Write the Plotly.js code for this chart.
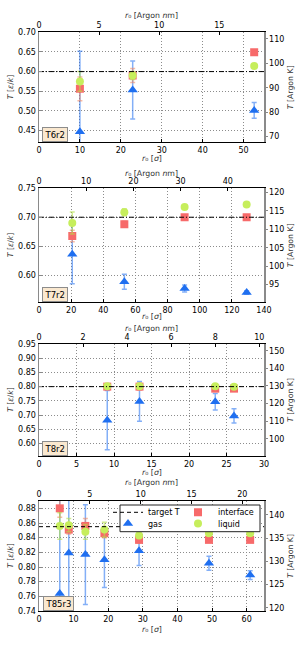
<!DOCTYPE html>
<html><head><meta charset="utf-8">
<script src="https://cdn.plot.ly/plotly-3.0.1.min.js"></script>
<style>html,body{margin:0;padding:0;background:#fff}#chart{width:300px;height:650px}</style>
</head><body><div id="chart"></div>
<script>
// ---------- data ----------
const panelLabels = ['T6r2', 'T7r2', 'T8r2', 'T85r3'];
const targetT = [0.60, 0.70, 0.80, 0.855];

// T6r2
const r0_T6r2 = [10.0, 22.9, 52.6];
const gas_T6r2 = [0.447, 0.553, 0.501];
const gasErr_T6r2 = [0.205, 0.074, 0.020];
const interface_T6r2 = [0.556, 0.590, 0.649];
const interfaceErr_T6r2 = [0.030, 0.018, 0.005];
const liquid_T6r2 = [0.575, 0.590, 0.614];
const liquidErr_T6r2 = [0.025, 0.010, 0.004];

// T7r2
const r0_T7r2 = [20.7, 53.1, 90.6, 129.2];
const gas_T7r2 = [0.636, 0.5885, 0.577, 0.570];
const gasErr_T7r2 = [0.051, 0.013, 0.006, 0.003];
const interface_T7r2 = [0.6675, 0.688, 0.700, 0.700];
const interfaceErr_T7r2 = [0.010, 0.005, 0.004, 0.003];
const liquid_T7r2 = [0.690, 0.7085, 0.7176, 0.722];
const liquidErr_T7r2 = [0.019, 0.006, 0.004, 0.003];

// T8r2
const r0_T8r2 = [9.1, 13.4, 23.5, 26.0];
const gas_T8r2 = [0.682, 0.748, 0.747, 0.697];
const gasErr_T8r2 = [0.104, 0.070, 0.029, 0.025];
const interface_T8r2 = [0.800, 0.800, 0.793, 0.793];
const interfaceErr_T8r2 = [0.006, 0.012, 0.005, 0.004];
const liquid_T8r2 = [0.801, 0.801, 0.801, 0.800];
const liquidErr_T8r2 = [0.005, 0.008, 0.004, 0.003];

// T85r3
const r0_T85r3 = [6.0, 8.6, 13.4, 18.9, 28.9, 49.1, 61.0];
const gas_T85r3 = [0.764, 0.819, 0.817, 0.810, 0.822, 0.805, 0.789];
const gasErr_T85r3 = [0.150, 0.100, 0.068, 0.038, 0.020, 0.0095, 0.006];
const interface_T85r3 = [0.880, 0.851, 0.856, 0.846, 0.837, 0.837, 0.837];
const interfaceErr_T85r3 = [0.012, 0.006, 0.010, 0.006, 0.004, 0.003, 0.003];
const liquid_T85r3 = [0.856, 0.857, 0.848, 0.851, 0.843, 0.846, 0.846];
const liquidErr_T85r3 = [0.018, 0.009, 0.010, 0.010, 0.004, 0.003, 0.003];

// axis limits / ticks
const sigmaRanges = [[0, 55], [0, 140], [0, 30], [0, 65]];
const leftRanges = [[0.42, 0.70], [0.553, 0.75], [0.556, 0.95], [0.74, 0.89]];
const rightRanges = [[67.7, 112.7], [90.2, 121.1], [90.2, 153.8], [119.3, 143.0]];
const leftDticks = [0.05, 0.05, 0.05, 0.02];
const rightDticks = [10, 5, 10, 5];
const sigmaDticks = [10, 20, 5, 10];
const nmDticks = [5, 10, 2, 5];
const NM_PER_SIGMA = 0.3405;

// axis titles
const titleLeft = '<i>T</i> [<i>ε</i>/<i>k</i>]';
const titleRight = '<i>T</i> [Argon K]';
const titleTop = '<i>r</i>₀ [Argon <i>n</i>m]';
const titleBottom = '<i>r</i>₀ [<i>σ</i>]';

const panels = [
  {r0: r0_T6r2, gas: gas_T6r2, gasErr: gasErr_T6r2, iface: interface_T6r2, ifaceErr: interfaceErr_T6r2, liq: liquid_T6r2, liqErr: liquidErr_T6r2},
  {r0: r0_T7r2, gas: gas_T7r2, gasErr: gasErr_T7r2, iface: interface_T7r2, ifaceErr: interfaceErr_T7r2, liq: liquid_T7r2, liqErr: liquidErr_T7r2},
  {r0: r0_T8r2, gas: gas_T8r2, gasErr: gasErr_T8r2, iface: interface_T8r2, ifaceErr: interfaceErr_T8r2, liq: liquid_T8r2, liqErr: liquidErr_T8r2},
  {r0: r0_T85r3, gas: gas_T85r3, gasErr: gasErr_T85r3, iface: interface_T85r3, ifaceErr: interfaceErr_T85r3, liq: liquid_T85r3, liqErr: liquidErr_T85r3}
];

// ---------- layout geometry ----------
const W = 300, H = 650, ML = 39, MR = 36;
const plotTop = [32.3, 188.3, 344, 501];
const plotBottom = [142.3, 302.3, 456, 611];
const topTitleGap = [16.6, 15, 15.7, 18.3];
const bottomTitleGap = [16.3, 14.5, 16.8, 18.5];
const PW = W - ML - MR;
const fy = px => 1 - px / H;
const fx = px => (px - ML) / PW;

const FONT = 'DejaVu Sans, Arial, sans-serif';
const C_GAS = '#1f6ff0', C_IF = '#f76a6a', C_LIQ = '#c6ee5c';
const GRID_DASH = '1px,2px';

const traces = [];
const layout = {
  width: W, height: H,
  margin: {l: ML, r: MR, t: 0, b: 0, pad: 0},
  paper_bgcolor: '#fff', plot_bgcolor: '#fff',
  font: {family: FONT, size: 8, color: '#000'},
  showlegend: true,
  annotations: [], shapes: []
};

panels.forEach((d, p) => {
  const i = p + 1, j = p + 5;
  const xa = 'x' + i, ya = 'y' + i;
  const last = p === 3;
  const err = (arr, col) => ({type: 'data', array: arr, visible: true, color: col, thickness: 1.5, width: 2.5});

  traces.push({
    type: 'scatter', mode: 'markers', name: 'gas', x: d.r0, y: d.gas, xaxis: xa, yaxis: ya,
    marker: {symbol: 'triangle-up', size: 9, color: C_GAS},
    error_y: err(d.gasErr, 'rgba(30,110,240,0.55)'),
    showlegend: last, legend: 'legend2', legendrank: 1, legendwidth: 25, hoverinfo: 'skip'
  });
  traces.push({
    type: 'scatter', mode: 'markers', name: 'interface', x: d.r0, y: d.iface, xaxis: xa, yaxis: ya,
    marker: {symbol: 'square', size: 8, color: C_IF},
    error_y: err(d.ifaceErr, 'rgba(240,130,90,0.55)'),
    showlegend: last, legend: 'legend', legendrank: 2, legendwidth: 50, hoverinfo: 'skip'
  });
  traces.push({
    type: 'scatter', mode: 'markers', name: 'liquid', x: d.r0, y: d.liq, xaxis: xa, yaxis: ya,
    marker: {symbol: 'circle', size: 8, color: C_LIQ},
    error_y: err(d.liqErr, 'rgba(180,225,70,0.6)'),
    showlegend: last, legend: 'legend2', legendrank: 2, legendwidth: 50, hoverinfo: 'skip'
  });
  traces.push({
    type: 'scatter', mode: 'lines', name: 'target T',
    x: sigmaRanges[p], y: [targetT[p], targetT[p]], xaxis: xa, yaxis: ya,
    line: {color: '#000', width: 1, dash: last ? '4px,3px' : '5px,2px,1px,2px'},
    showlegend: last, legend: 'legend', legendrank: 1, legendwidth: 25, hoverinfo: 'skip'
  });
  // empty helper trace so that the secondary (top nm / right Kelvin) axes get drawn
  traces.push({
    type: 'scatter', mode: 'markers', x: [], y: [], xaxis: 'x' + j, yaxis: 'y' + j,
    showlegend: false, hoverinfo: 'skip'
  });

  const dom = [fy(plotBottom[p]), fy(plotTop[p])];
  const tickf = {family: FONT, size: 8, color: '#000'};
  layout['xaxis' + i] = {
    domain: [0, 1], anchor: ya, range: sigmaRanges[p], tick0: 0, dtick: sigmaDticks[p],
    showline: true, linecolor: '#000', linewidth: 1, mirror: false,
    ticks: 'inside', ticklen: 3, tickcolor: '#000', tickfont: tickf,
    showgrid: true, gridcolor: '#8c8c8c', griddash: GRID_DASH, gridwidth: 1, zeroline: false, automargin: false
  };
  layout['xaxis' + j] = {
    overlaying: xa, side: 'top', anchor: 'y' + j,
    range: [sigmaRanges[p][0] * NM_PER_SIGMA, sigmaRanges[p][1] * NM_PER_SIGMA], tick0: 0, dtick: nmDticks[p],
    showline: true, linecolor: '#000', linewidth: 1,
    ticks: 'inside', ticklen: 3, tickcolor: '#000', tickfont: tickf,
    showgrid: false, zeroline: false, automargin: false
  };
  layout['yaxis' + i] = {
    domain: dom, anchor: xa, range: leftRanges[p], tick0: 0, dtick: leftDticks[p], tickformat: '.2f',
    showline: true, linecolor: '#8a8a8a', linewidth: 1.5,
    ticks: 'inside', ticklen: 3, tickcolor: '#888', tickfont: tickf,
    showgrid: true, gridcolor: '#8c8c8c', griddash: GRID_DASH, gridwidth: 1, zeroline: false, automargin: false
  };
  layout['yaxis' + j] = {
    overlaying: ya, side: 'right', anchor: 'x' + j, range: rightRanges[p], tick0: 0, dtick: rightDticks[p], tickformat: 'd',
    showline: true, linecolor: '#8a8a8a', linewidth: 1.5,
    ticks: 'outside', ticklen: 2, tickcolor: '#888', tickfont: tickf,
    showgrid: false, zeroline: false, automargin: false
  };

  const mid = (plotTop[p] + plotBottom[p]) / 2;
  const titleFont = {family: FONT, size: 7.8, color: '#333'};
  const ann = (x, y, text, extra) => layout.annotations.push(Object.assign({
    xref: 'paper', yref: 'paper', x: x, y: y, text: text, showarrow: false,
    xanchor: 'center', yanchor: 'middle', font: titleFont, borderpad: 0
  }, extra || {}));
  ann(fx(10), fy(mid), titleLeft, {textangle: -90});
  ann(fx(290), fy(mid), titleRight, {textangle: -90});
  ann(fx(151.5), fy(plotTop[p] - topTitleGap[p]), titleTop);
  ann(fx(151.5), fy(plotBottom[p] + bottomTitleGap[p]), titleBottom);
  // panel label box
  ann(fx(last ? 58.7 : 54.5), fy(plotBottom[p] - 7.5), panelLabels[p], {
    font: {family: FONT, size: 8.5, color: '#000'},
    bgcolor: '#fae8cf', bordercolor: '#8c8c8c', borderwidth: 1, borderpad: 1.5
  });
});

// legend frame (panel 4)
layout.shapes.push({
  type: 'rect', xref: 'paper', yref: 'paper', layer: 'above',
  x0: fx(120), x1: fx(260), y0: fy(531.7), y1: fy(505),
  fillcolor: '#fff', line: {color: '#222', width: 1}
});
const legBase = {
  orientation: 'h', xref: 'paper', yref: 'paper', xanchor: 'left', yanchor: 'middle',
  bgcolor: 'rgba(0,0,0,0)', borderwidth: 0, entrywidthmode: 'pixels',
  font: {family: FONT, size: 8, color: '#000'}, itemclick: false, itemdoubleclick: false
};
layout.legend = Object.assign({}, legBase, {x: fx(108), y: fy(512.3)});
layout.legend2 = Object.assign({}, legBase, {x: fx(108), y: fy(523.6)});

function dropEmptyTexts(gd) {
  gd.querySelectorAll('text').forEach(t => {
    let empty = !t.textContent.trim();
    if (!empty) {
      try { const b = t.getBBox(); empty = b.width === 0 || b.height === 0; } catch (e) {}
    }
    if (empty) t.remove();
  });
}
Plotly.newPlot('chart', traces, layout, {staticPlot: true, displayModeBar: false}).then(gd => {
  dropEmptyTexts(gd);
  setTimeout(() => dropEmptyTexts(gd), 50);
});
</script></body></html>
